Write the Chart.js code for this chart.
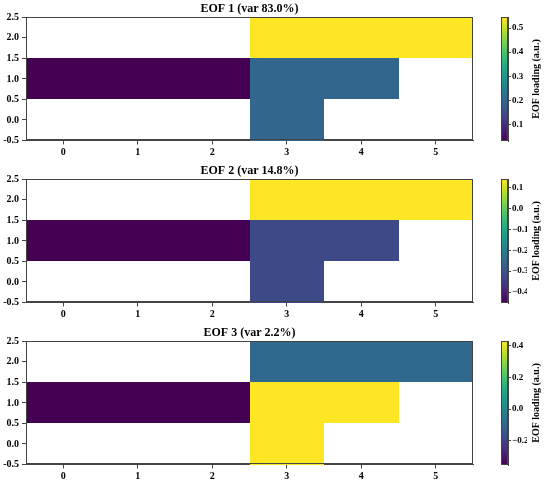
<!DOCTYPE html>
<html>
<head>
<meta charset="utf-8">
<script src="https://cdn.jsdelivr.net/npm/chart.js@4.4.1/dist/chart.umd.min.js"></script>
<style>
body { margin: 0; background: #fff; }
#wrap { position: relative; width: 550px; height: 482px; overflow: hidden; }
canvas { position: absolute; }
</style>
</head>
<body>
<div id="wrap"></div>
<script>
// grid values, row 0 = bottom (y=0), null = no data
var eofTitles = ['EOF 1 (var 83.0%)', 'EOF 2 (var 14.8%)', 'EOF 3 (var 2.2%)'];
var eof1 = [
    [null, null, null, 0.20, null, null],
    [0.031, 0.031, 0.031, 0.20, 0.20, null],
    [null, null, null, 0.546, 0.546, 0.546]
];
var eof2 = [
    [null, null, null, -0.32, null, null],
    [-0.452, -0.452, -0.452, -0.32, -0.32, null],
    [null, null, null, 0.140, 0.140, 0.140]
];
var eof3 = [
    [null, null, null, 0.430, null, null],
    [-0.353, -0.353, -0.353, 0.430, 0.430, null],
    [null, null, null, -0.09, -0.09, -0.09]
];
var xTicks = [0, 1, 2, 3, 4, 5];
var yTicks = [-0.5, 0, 0.5, 1, 1.5, 2, 2.5];
var cbTicks1 = [0.1, 0.2, 0.3, 0.4, 0.5];
var cbTicks2 = [-0.4, -0.3, -0.2, -0.1, 0.0, 0.1];
var cbTicks3 = [-0.2, 0.0, 0.2, 0.4];
var cbLabel = 'EOF loading (a.u.)';

var grids = [eof1, eof2, eof3];
var cbTicks = [cbTicks1, cbTicks2, cbTicks3];

var viridisStops = ['#440154', '#482475', '#414487', '#355f8d', '#2a788e', '#21918c',
    '#22a884', '#44bf70', '#7ad151', '#bddf26', '#fde725'];

function hexRgb(h) {
    return [parseInt(h.substr(1, 2), 16), parseInt(h.substr(3, 2), 16), parseInt(h.substr(5, 2), 16)];
}
function viridis(t) {
    t = Math.min(1, Math.max(0, t));
    var p = t * 10;
    var i = Math.min(9, Math.floor(p));
    var f = p - i;
    var a = hexRgb(viridisStops[i]), b = hexRgb(viridisStops[i + 1]);
    var c = a.map(function (v, k) { return Math.round(v + (b[k] - v) * f); });
    return 'rgb(' + c.join(',') + ')';
}

Chart.defaults.font.family = "'Liberation Serif', 'Times New Roman', serif";
Chart.defaults.font.weight = 'bold';
Chart.defaults.color = '#000';

var SERIF = "'Liberation Serif', 'Times New Roman', serif";

var heatPlugin = {
    id: 'heat',
    afterDraw: function (chart) {
        var ctx = chart.ctx, x = chart.scales.x, y = chart.scales.y;
        var o = chart.options.plugins.heat;
        chart.data.datasets[0].data.forEach(function (c) {
            var l = Math.round(x.getPixelForValue(c.x - 0.5)), r = Math.round(x.getPixelForValue(c.x + 0.5));
            var t = Math.round(y.getPixelForValue(c.y + 0.5)), b = Math.round(y.getPixelForValue(c.y - 0.5));
            ctx.fillStyle = viridis((c.v - o.vmin) / (o.vmax - o.vmin));
            ctx.fillRect(l, t, r - l, b - t);
        });
        var a = chart.chartArea;
        ctx.save();
        ctx.strokeStyle = '#444';
        ctx.lineWidth = 1;
        ctx.strokeRect(Math.round(a.left) + 0.5, Math.round(a.top) + 0.5,
            Math.round(a.right - a.left) - 1, Math.round(a.bottom - a.top) - 1);
        ctx.restore();
    }
};

var cbPlugin = {
    id: 'cbar',
    afterDraw: function (chart) {
        var ctx = chart.ctx, y = chart.scales.y, a = chart.chartArea;
        var o = chart.options.plugins.cbar;
        for (var py = Math.floor(a.top); py < a.bottom; py++) {
            var v = y.getValueForPixel(py + 0.5);
            ctx.fillStyle = viridis((v - o.vmin) / (o.vmax - o.vmin));
            ctx.fillRect(a.left, py, a.right - a.left, 1);
        }
        ctx.save();
        ctx.strokeStyle = '#444';
        ctx.lineWidth = 1;
        ctx.strokeRect(a.left + 0.5, Math.round(a.top) + 0.5, a.right - a.left - 1, Math.round(a.bottom - a.top) - 1);
        ctx.translate(46, (a.top + a.bottom) / 2);
        ctx.rotate(-Math.PI / 2);
        ctx.fillStyle = '#000';
        ctx.font = 'bold 10px ' + SERIF;
        ctx.textAlign = 'center';
        ctx.textBaseline = 'middle';
        ctx.fillText(cbLabel, 0, 0);
        ctx.restore();
    }
};

function fmtMinus(v) {
    var s = v.toFixed(1);
    return s == '-0.0' ? '0.0' : s.replace('-', '\u2212');
}

var wrap = document.getElementById('wrap');

for (var i = 0; i < 3; i++) {
    var grid = grids[i];
    var cells = [];
    var vals = [];
    for (var r = 0; r < grid.length; r++) {
        for (var c = 0; c < grid[r].length; c++) {
            if (grid[r][c] !== null) {
                cells.push({ x: c, y: r, v: grid[r][c] });
                vals.push(grid[r][c]);
            }
        }
    }
    var vmin = Math.min.apply(null, vals);
    var vmax = Math.max.apply(null, vals);

    var cv = document.createElement('canvas');
    cv.width = 490; cv.height = 160;
    cv.style.left = '0px'; cv.style.top = (162 * i) + 'px';
    wrap.appendChild(cv);

    var cb = document.createElement('canvas');
    cb.width = 60; cb.height = 160;
    cb.style.left = '490px'; cb.style.top = (162 * i) + 'px';
    wrap.appendChild(cb);

    new Chart(cv, {
        type: 'scatter',
        data: { datasets: [{ data: cells, pointRadius: 0, pointHoverRadius: 0 }] },
        options: {
            responsive: false,
            animation: false,
            events: [],
            layout: { padding: { top: 2, right: 17, left: 0, bottom: 0 } },
            plugins: {
                legend: { display: false },
                tooltip: { enabled: false },
                title: {
                    display: true, text: eofTitles[i], fullSize: false, color: '#000',
                    font: { size: 12, weight: 'bold' }, padding: { top: 0, bottom: 1 }
                },
                heat: { vmin: vmin, vmax: vmax }
            },
            scales: {
                x: {
                    type: 'linear', min: -0.5, max: 5.5,
                    afterBuildTicks: function (s) { s.ticks = xTicks.map(function (v) { return { value: v }; }); },
                    afterFit: function (s) { s.height = 19.5; },
                    grid: { drawOnChartArea: false, tickLength: 4, color: '#444' },
                    border: { color: '#444' },
                    ticks: { font: { size: 10, weight: 'bold' }, padding: 2, maxRotation: 0,
                        callback: function (v) { return v.toFixed(0); } }
                },
                y: {
                    type: 'linear', min: -0.5, max: 2.5,
                    afterBuildTicks: function (s) { s.ticks = yTicks.map(function (v) { return { value: v }; }); },
                    afterFit: function (s) { s.width = 26; },
                    grid: { drawOnChartArea: false, tickLength: 4, color: '#444' },
                    border: { color: '#444' },
                    ticks: { font: { size: 10, weight: 'bold' }, padding: 3,
                        callback: function (v) { return v.toFixed(1); } }
                }
            }
        },
        plugins: [heatPlugin]
    });

    (function (ticksArr) {
        new Chart(cb, {
            type: 'scatter',
            data: { datasets: [] },
            options: {
                responsive: false,
                animation: false,
                events: [],
                layout: { padding: { left: 11, top: 17, bottom: 19, right: 23 } },
                plugins: {
                    legend: { display: false },
                    tooltip: { enabled: false },
                    cbar: { vmin: vmin, vmax: vmax }
                },
                scales: {
                    x: { display: false, min: 0, max: 1 },
                    y: {
                        position: 'right', min: vmin, max: vmax,
                        afterBuildTicks: function (s) { s.ticks = ticksArr.map(function (v) { return { value: v }; }); },
                        afterFit: function (s) { s.width = 19; },
                        grid: { drawOnChartArea: false, tickLength: 3, color: '#444' },
                        border: { color: '#444' },
                        ticks: { font: { size: 9, weight: 'bold' }, padding: 1,
                            callback: function (v) { return fmtMinus(v); } }
                    }
                }
            },
            plugins: [cbPlugin]
        });
    })(cbTicks[i]);
}
</script>
</body>
</html>
